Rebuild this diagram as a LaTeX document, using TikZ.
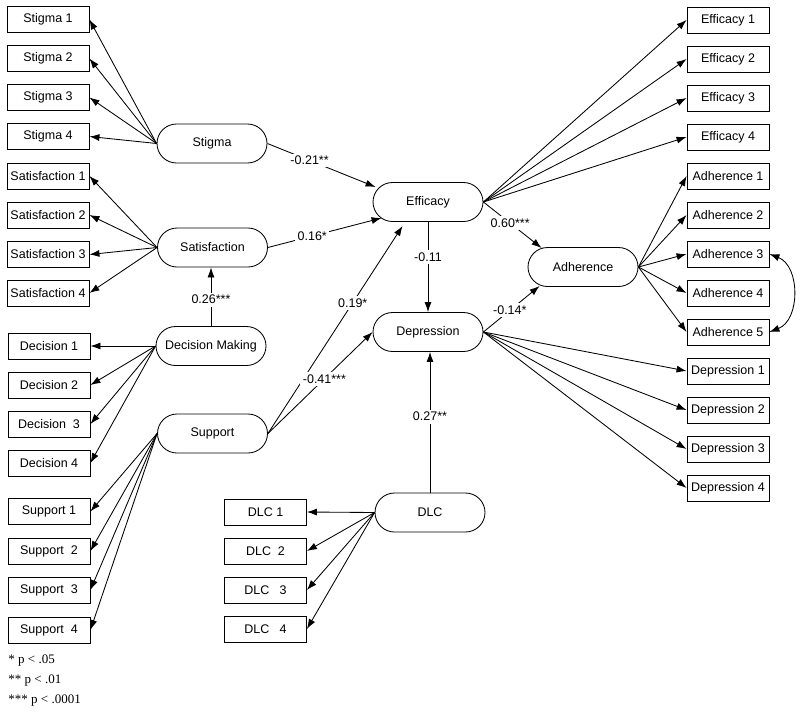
\documentclass[tikz,border=0pt]{standalone}
\usepackage{fontspec}
\setmainfont{Liberation Sans}
\newfontfamily\legendfont{Liberation Serif}
\usetikzlibrary{arrows.meta,calc}
\begin{document}
\begin{tikzpicture}[x=1pt,y=-1pt,
  font=\fontsize{12.5}{14}\selectfont,
  line width=0.85pt,
  ind/.style={draw,minimum width=82pt,minimum height=26pt,inner sep=0pt},
  lat/.style={draw,rounded corners=19.5pt,minimum width=110pt,minimum height=39pt,inner sep=0pt},
  arr/.style={-{Latex[length=10pt,width=7pt]}},
  darr/.style={{Latex[length=10pt,width=7pt]}-{Latex[length=10pt,width=7pt]}},
  lbl/.style={fill=white,inner sep=2.5pt}]
\useasboundingbox (0,0) rectangle (800,715);

% latent variables
\node[lat] (stig) at (212,143.5) {Stigma};
\node[lat] (sat) at (212.5,247.5) {Satisfaction};
\node[lat] (dm) at (211,346) {Decision Making};
\node[lat] (sup) at (212.5,433.5) {Support};
\node[lat] (eff) at (428,202) {Efficacy};
\node[lat] (dep) at (428,332) {Depression};
\node[lat] (dlc) at (430,512.5) {DLC};
\node[lat] (adh) at (583,267) {Adherence};

% left indicators
\node[ind] (s1) at (48,19.5) {Stigma 1};
\node[ind] (s2) at (48,58.5) {Stigma 2};
\node[ind] (s3) at (48,97.5) {Stigma 3};
\node[ind] (s4) at (48,136.5) {Stigma 4};
\node[ind] (sa1) at (48,176) {Satisfaction 1};
\node[ind] (sa2) at (48,215) {Satisfaction 2};
\node[ind] (sa3) at (48,254.5) {Satisfaction 3};
\node[ind] (sa4) at (48,293) {Satisfaction 4};
\node[ind] (d1) at (49,346) {Decision 1};
\node[ind] (d2) at (49,385) {Decision 2};
\node[ind] (d3) at (49,424) {Decision\ \ 3};
\node[ind] (d4) at (49,463) {Decision 4};
\node[ind] (su1) at (49,511.5) {Support 1};
\node[ind] (su2) at (49,551) {Support\ \ 2};
\node[ind] (su3) at (49,590) {Support\ \ 3};
\node[ind] (su4) at (49,630) {Support\ \ 4};

% DLC indicators
\node[ind] (c1) at (265.5,512) {DLC 1};
\node[ind] (c2) at (265.5,551) {DLC\ \ 2};
\node[ind] (c3) at (265.5,590) {DLC\ \ \ 3};
\node[ind] (c4) at (265.5,629) {DLC\ \ \ 4};

% right indicators
\node[ind] (e1) at (728,20) {Efficacy 1};
\node[ind] (e2) at (728,59) {Efficacy 2};
\node[ind] (e3) at (728,98) {Efficacy 3};
\node[ind] (e4) at (728,137) {Efficacy 4};
\node[ind] (a1) at (728,176) {Adherence 1};
\node[ind] (a2) at (728,215) {Adherence 2};
\node[ind] (a3) at (728,254) {Adherence 3};
\node[ind] (a4) at (728,293) {Adherence 4};
\node[ind] (a5) at (728,332) {Adherence 5};
\node[ind] (p1) at (728,371) {Depression 1};
\node[ind] (p2) at (728,410) {Depression 2};
\node[ind] (p3) at (728,449) {Depression 3};
\node[ind] (p4) at (728,488) {Depression 4};

% loadings
\foreach \i in {s1,s2,s3,s4} \draw[arr] (stig.west) -- (\i.east);
\foreach \i in {sa1,sa2,sa3,sa4} \draw[arr] (sat.west) -- (\i.east);
\foreach \i in {d1,d2,d3,d4} \draw[arr] (dm.west) -- (\i.east);
\foreach \i in {su1,su2,su3,su4} \draw[arr] (sup.west) -- (\i.east);
\foreach \i in {c1,c2,c3,c4} \draw[arr] (dlc.west) -- (\i.east);
\foreach \i in {e1,e2,e3,e4} \draw[arr] (eff.east) -- (\i.west);
\foreach \i in {a1,a2,a3,a4,a5} \draw[arr] (adh.east) -- (\i.west);
\foreach \i in {p1,p2,p3,p4} \draw[arr] (dep.east) -- (\i.west);

% structural paths
\draw[arr] (stig.east) -- node[lbl,pos=0.39] {-0.21**} ($(eff.west)+(3,-15)$);
\draw[arr] (sat.east) -- node[lbl,pos=0.39] {0.16*} ($(eff.west)+(9,16)$);
\draw[arr] (dm.north) -- node[lbl,pos=0.45] {0.26***} (dm.north |- sat.south);
\draw[arr] (sup.east) -- node[lbl,pos=0.63] {0.19*} ($(eff.south west)+(30,4)$);
\draw[arr] (sup.east) -- node[lbl,pos=0.54] {-0.41***} (dep.west);
\draw[arr] (eff.south) -- node[lbl,pos=0.39] {-0.11} (dep.north);
\draw[arr] (dlc.north) -- node[lbl,pos=0.54] {0.27**} (dlc.north |- dep.south);
\draw[arr] (eff.east) -- node[lbl,pos=0.46] {0.60***} ($(adh.west)+(14,-19)$);
\draw[arr] (dep.east) -- node[lbl,pos=0.47] {-0.14*} ($(adh.west)+(12,19)$);

% correlated error
\draw[darr] (a3.east) .. controls +(31,12) and +(31,-12) .. (a5.east);

% legend
\node[anchor=west,font=\legendfont\fontsize{13}{15}\selectfont,inner sep=0pt] (l1) at (8,661) {* p < .05};
\node[anchor=west,font=\legendfont\fontsize{13}{15}\selectfont,inner sep=0pt] (l2) at (8,681) {** p < .01};
\node[anchor=west,font=\legendfont\fontsize{13}{15}\selectfont,inner sep=0pt] (l3) at (8,701) {*** p < .0001};
\end{tikzpicture}
\end{document}
